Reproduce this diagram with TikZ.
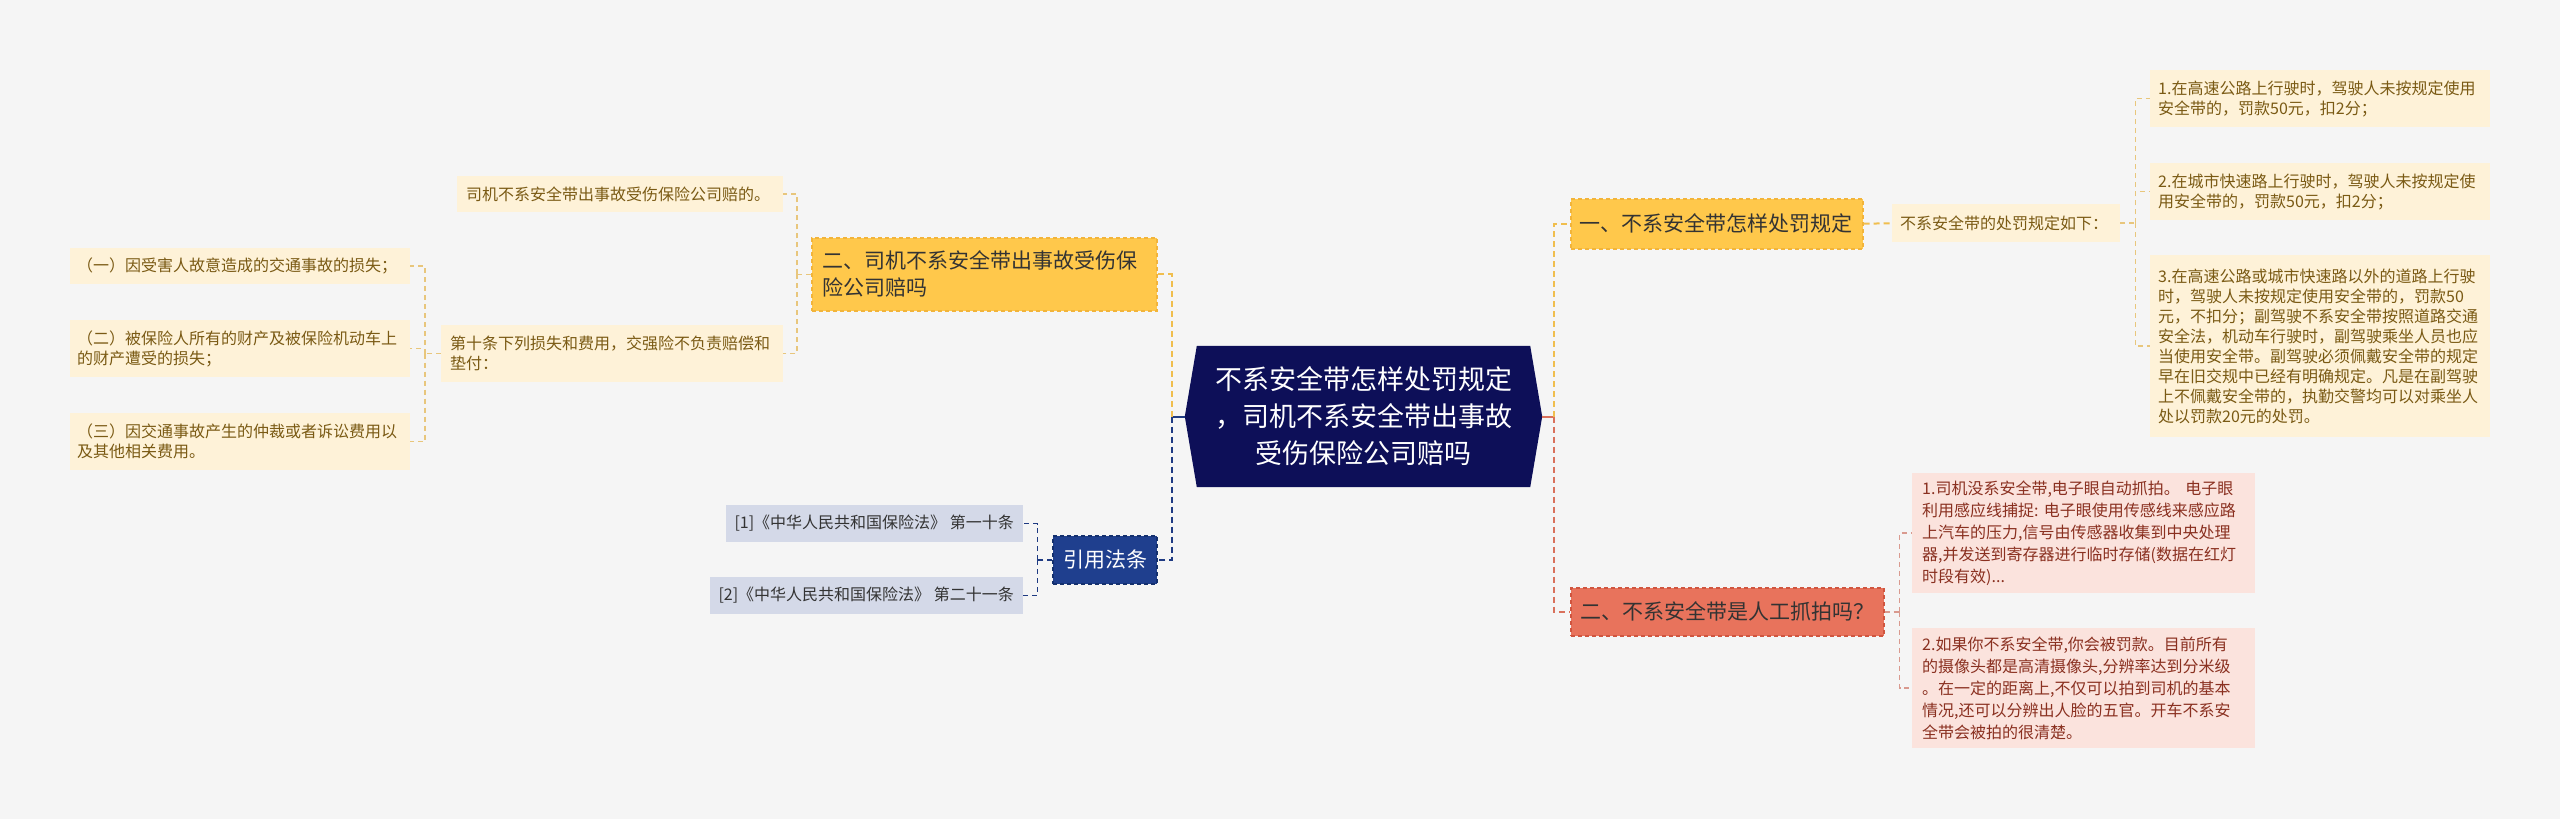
\documentclass[tikz,border=0pt]{standalone}
\usepackage{fontspec}
\setmainfont{Noto Sans CJK SC}
\usetikzlibrary{backgrounds}
\definecolor{bg}{HTML}{F5F5F5}
\definecolor{cfill}{HTML}{0D0F58}
\definecolor{gold}{HTML}{FFC84B}
\definecolor{goldline}{HTML}{F0BE4E}
\definecolor{goldborder}{HTML}{F2B43A}
\definecolor{leafy}{HTML}{FEF2D8}
\definecolor{leafytext}{HTML}{7A5A14}
\definecolor{leafyline}{HTML}{E8C67C}
\definecolor{redfill}{HTML}{E8735C}
\definecolor{redborder}{HTML}{D0553F}
\definecolor{redline}{HTML}{D9715C}
\definecolor{leafr}{HTML}{FBE3DD}
\definecolor{leafrtext}{HTML}{8A3020}
\definecolor{leafrline}{HTML}{D99A8F}
\definecolor{navyfill}{HTML}{1F3F8E}
\definecolor{navyborder}{HTML}{14306E}
\definecolor{navyline}{HTML}{1E3A82}
\definecolor{refy}{HTML}{D4D9E8}
\definecolor{dtext}{HTML}{333333}
\tikzset{
  leafbase/.style={anchor=north west, inner ysep=0pt, align=left, font=\fontsize{16}{20}\selectfont},
  ylf/.style={leafbase, fill=leafy, text=leafytext},
  rlf/.style={leafbase, fill=leafr, text=leafrtext, font=\fontsize{16}{22}\selectfont},
  brbox/.style={anchor=north west, inner ysep=0pt, align=left, font=\fontsize{21}{27}\selectfont, text=dtext, line width=1.5pt, dash pattern=on 4pt off 3pt, draw},
  gbr/.style={brbox, fill=gold, draw=goldborder},
  rbr/.style={brbox, fill=redfill, draw=redborder},
  citebox/.style={fill=navyfill, draw=navyborder, line width=1.5pt, dash pattern=on 4pt off 3pt, text=white, font=\fontsize{21}{27}\selectfont, minimum width=104pt, minimum height=48pt, inner sep=0pt},
  refbox/.style={fill=refy, text=dtext, font=\fontsize{16}{20}\selectfont, inner xsep=9pt, inner ysep=0pt, minimum height=37pt, anchor=east},
  centerbox/.style={text=white, font=\fontsize{27}{37}\selectfont, align=center, minimum width=357pt, minimum height=141pt, inner sep=0pt},
  gcon/.style={draw=goldline, line width=2pt, dash pattern=on 6pt off 4pt},
  rcon/.style={draw=redline, line width=2pt, dash pattern=on 6pt off 4pt},
  ncon/.style={draw=navyline, line width=2pt, dash pattern=on 6pt off 4pt},
  ycon/.style={draw=leafyline, line width=1.5pt, dash pattern=on 5pt off 4pt},
  rlcon/.style={draw=leafrline, line width=1.5pt, dash pattern=on 5pt off 4pt},
  nlcon/.style={draw=navyline, line width=1.5pt, dash pattern=on 5pt off 4pt},
}
\begin{document}
\begin{tikzpicture}[x=1pt,y=-1pt]
\useasboundingbox (0,0) rectangle (2560,819);

% central node
\node[centerbox] (c) at (1363.5,416.5) {不系安全带怎样处罚规定\\，司机不系安全带出事故\\受伤保险公司赔吗};

% right side
\node[gbr, inner xsep=9pt, text width=274pt, minimum height=50pt] (b1) at (1570,198) {一、不系安全带怎样处罚规定};
\node[ylf, inner xsep=8pt, text width=212pt, minimum height=38pt] (ru) at (1892,204) {不系安全带的处罚规定如下：};
\node[ylf, inner xsep=8pt, text width=324pt, minimum height=57pt] (y1) at (2150,70) {1.在高速公路上行驶时，驾驶人未按规定使用\\安全带的，罚款50元，扣2分；};
\node[ylf, inner xsep=8pt, text width=324pt, minimum height=57pt] (y2) at (2150,163) {2.在城市快速路上行驶时，驾驶人未按规定使\\用安全带的，罚款50元，扣2分；};
\node[ylf, inner xsep=8pt, text width=324pt, minimum height=182pt] (y3) at (2150,255) {3.在高速公路或城市快速路以外的道路上行驶\\时，驾驶人未按规定使用安全带的，罚款50\\元，不扣分；副驾驶不系安全带按照道路交通\\安全法，机动车行驶时，副驾驶乘坐人员也应\\当使用安全带。副驾驶必须佩戴安全带的规定\\早在旧交规中已经有明确规定。凡是在副驾驶\\上不佩戴安全带的，执勤交警均可以对乘坐人\\处以罚款20元的处罚。};

\node[rbr, inner xsep=10pt, text width=293pt, minimum height=48pt] (b2) at (1570,587) {二、不系安全带是人工抓拍吗？};
\node[rlf, inner xsep=10pt, text width=323pt, minimum height=120pt] (r1) at (1912,473) {1.司机没系安全带,电子眼自动抓拍。~电子眼\\利用感应线捕捉:~电子眼使用传感线来感应路\\上汽车的压力,信号由传感器收集到中央处理\\器,并发送到寄存器进行临时存储(数据在红灯\\时段有效)...};
\node[rlf, inner xsep=10pt, text width=323pt, minimum height=120pt] (r2) at (1912,628) {2.如果你不系安全带,你会被罚款。目前所有\\的摄像头都是高清摄像头,分辨率达到分米级\\。在一定的距离上,不仅可以拍到司机的基本\\情况,还可以分辨出人脸的五官。开车不系安\\全带会被拍的很清楚。};

% left side
\node[gbr, inner xsep=11pt, text width=323pt, minimum height=73pt] (bl) at (811,237) {二、司机不系安全带出事故受伤保\\险公司赔吗};
\node[ylf, inner xsep=9pt, text width=308pt, minimum height=36pt] (l0) at (457,176) {司机不系安全带出事故受伤保险公司赔的。};
\node[ylf, inner xsep=9pt, text width=324pt, minimum height=57pt] (l10) at (441,325) {第十条下列损失和费用，交强险不负责赔偿和\\垫付：};
\node[ylf, inner xsep=7pt, text width=326pt, minimum height=36pt] (li1) at (70,248) {（一）因受害人故意造成的交通事故的损失；};
\node[ylf, inner xsep=7pt, text width=326pt, minimum height=57pt] (li2) at (70,320) {（二）被保险人所有的财产及被保险机动车上\\的财产遭受的损失；};
\node[ylf, inner xsep=7pt, text width=326pt, minimum height=57pt] (li3) at (70,413) {（三）因交通事故产生的仲裁或者诉讼费用以\\及其他相关费用。};

\node[citebox] (cite) at (1105,560) {引用法条};
\node[refbox] (ref1) at (1023,523.5) {[1]《中华人民共和国保险法》~第一十条};
\node[refbox] (ref2) at (1023,595.5) {[2]《中华人民共和国保险法》~第二十一条};

% connectors right
\draw[redline, line width=2pt] (c.east) -- ++(12,0) coordinate (jr);
\draw[gcon] (jr) |- (b1.west);
\draw[rcon] (jr) |- (b2.west);
\draw[gcon] (b1.east) -- (ru.west);
\draw[ycon] (ru.east) -- ++(15,0) coordinate (jy);
\draw[ycon] (jy) |- (y1.west);
\draw[ycon] (jy) |- (y2.west);
\draw[ycon] (jy) |- (y3.west);
\draw[rlcon] (b2.east) -- ++(15,0) coordinate (jrr);
\draw[rlcon] (jrr) |- (r1.west);
\draw[rlcon] (jrr) |- (r2.west);

% connectors left
\draw[navyline, line width=2pt] (c.west) -- ++(-13,0) coordinate (jl);
\draw[gcon] (jl) |- (bl.east);
\draw[ncon] (jl) |- (cite.east);
\draw[ycon] (bl.west) -- ++(-14,0) coordinate (jbl);
\draw[ycon] (jbl) |- (l0.east);
\draw[ycon] (jbl) |- (l10.east);
\draw[ycon] (l10.west) -- ++(-16,0) coordinate (jl10);
\draw[ycon] (jl10) |- (li1.east);
\draw[ycon] (jl10) |- (li2.east);
\draw[ycon] (jl10) |- (li3.east);
\draw[nlcon] (cite.west) -- ++(-15,0) coordinate (jc);
\draw[nlcon] (jc) |- (ref1.east);
\draw[nlcon] (jc) |- (ref2.east);

\begin{scope}[on background layer]
\fill[bg] (0,0) rectangle (2560,819);
\fill[cfill] ([xshift=12pt]c.north west) -- (c.west) -- ([xshift=12pt]c.south west) -- ([xshift=-12pt]c.south east) -- (c.east) -- ([xshift=-12pt]c.north east) -- cycle;
\end{scope}
\end{tikzpicture}
\end{document}
